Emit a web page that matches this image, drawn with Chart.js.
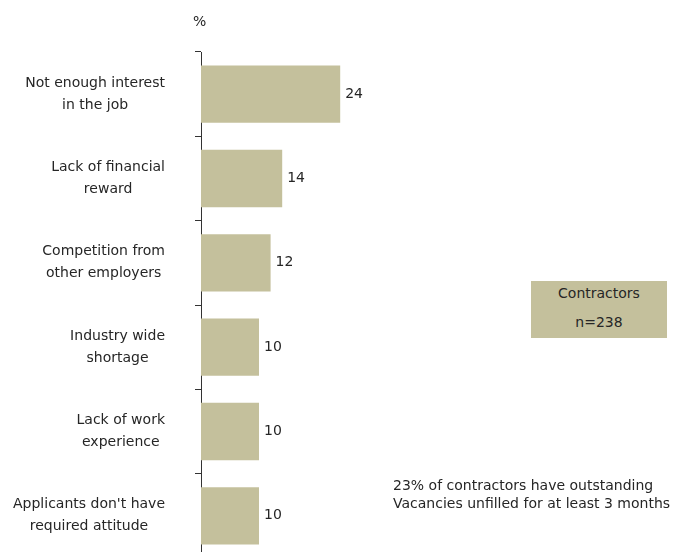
<!DOCTYPE html>
<html>
<head>
<meta charset="utf-8">
<script src="https://cdn.jsdelivr.net/npm/chart.js@4"></script>
<style>
    html, body { margin: 0; padding: 0; background: #fff; overflow: hidden; }
    #wrap { position: relative; width: 674px; height: 570px; font-family: "DejaVu Sans", sans-serif; color: #262626; }
    #wrap canvas { position: absolute; left: 0; top: 0; }
    .note { position: absolute; font-size: 14px; white-space: nowrap; }
    #percent { left: 193px; top: 13px; }
    #legendBox { left: 531px; top: 281px; width: 136px; height: 57px; background: #c4c09c; text-align: center; font-size: 14px; }
    #legendBox div { position: absolute; left: 0; width: 136px; }
    #footnote { left: 393px; top: 476px; line-height: 18px; }
</style>
</head>
<body>
<div id="wrap">
    <canvas id="barChart" width="674" height="570"></canvas>
    <div class="note" id="percent">%</div>
    <div class="note" id="legendBox">
        <div style="top: 4px;">Contractors</div>
        <div style="top: 33px;">n=238</div>
    </div>
    <div class="note" id="footnote">23% of contractors have outstanding<br>Vacancies unfilled for at least 3 months</div>
</div>

<script>
// ADATOK
const reasons = [
    ['Not enough interest', 'in the job'],
    ['Lack of financial', 'reward'],
    ['Competition from', 'other employers'],
    ['Industry wide', 'shortage'],
    ['Lack of work', 'experience'],
    ["Applicants don't have", 'required attitude']
];
const contractorValues = [24, 14, 12, 10, 10, 10];

const textColor = '#262626';
const barColor = '#c4c09c';
const fontFamily = '"DejaVu Sans", sans-serif';

// ertekek a savok vegen
const valueLabels = {
    id: 'valueLabels',
    afterDatasetsDraw(chart) {
        const ctx = chart.ctx;
        const meta = chart.getDatasetMeta(0);
        ctx.save();
        ctx.font = '14px ' + fontFamily;
        ctx.fillStyle = textColor;
        ctx.textAlign = 'left';
        ctx.textBaseline = 'middle';
        meta.data.forEach((bar, i) => {
            ctx.fillText(contractorValues[i], bar.x + 5, bar.y);
        });
        ctx.restore();
    }
};

// kategoria cimkek: sorok kozepre igazitva, blokk jobbra
const categoryLabels = {
    id: 'categoryLabels',
    afterDraw(chart) {
        const ctx = chart.ctx;
        const yScale = chart.scales.y;
        const lineHeight = 22;
        const rightEdge = 165;
        ctx.save();
        ctx.font = '14px ' + fontFamily;
        ctx.fillStyle = textColor;
        ctx.textAlign = 'center';
        ctx.textBaseline = 'middle';
        reasons.forEach((lines, i) => {
            const y = yScale.getPixelForValue(i);
            const widest = Math.max(...lines.map(l => ctx.measureText(l).width));
            const cx = rightEdge - widest / 2;
            const top = y - (lines.length - 1) * lineHeight / 2;
            lines.forEach((line, j) => {
                ctx.fillText(line, cx, top + j * lineHeight);
            });
        });
        ctx.restore();
    }
};

const ctx = document.getElementById('barChart').getContext('2d');
const barChart = new Chart(ctx, {
    type: 'bar',
    data: {
        labels: reasons,
        datasets: [{
            label: 'Contractors',
            data: contractorValues,
            backgroundColor: barColor,
            borderWidth: 0,
            barPercentage: 0.68,
            categoryPercentage: 1
        }]
    },
    options: {
        indexAxis: 'y',
        responsive: false,
        animation: false,
        layout: { padding: { top: 52, right: 9, bottom: 12, left: 0 } },
        scales: {
            x: { display: false, min: 0, max: 80 },
            y: {
                offset: true,
                grid: { display: true, drawOnChartArea: false, offset: true, tickLength: 6, color: '#333' },
                border: { display: true, color: '#333', width: 1 },
                ticks: { display: false },
                afterFit(scale) { scale.width = 201; }
            }
        },
        plugins: {
            legend: { display: false },
            tooltip: { enabled: false }
        }
    },
    plugins: [valueLabels, categoryLabels]
});
</script>
</body>
</html>
